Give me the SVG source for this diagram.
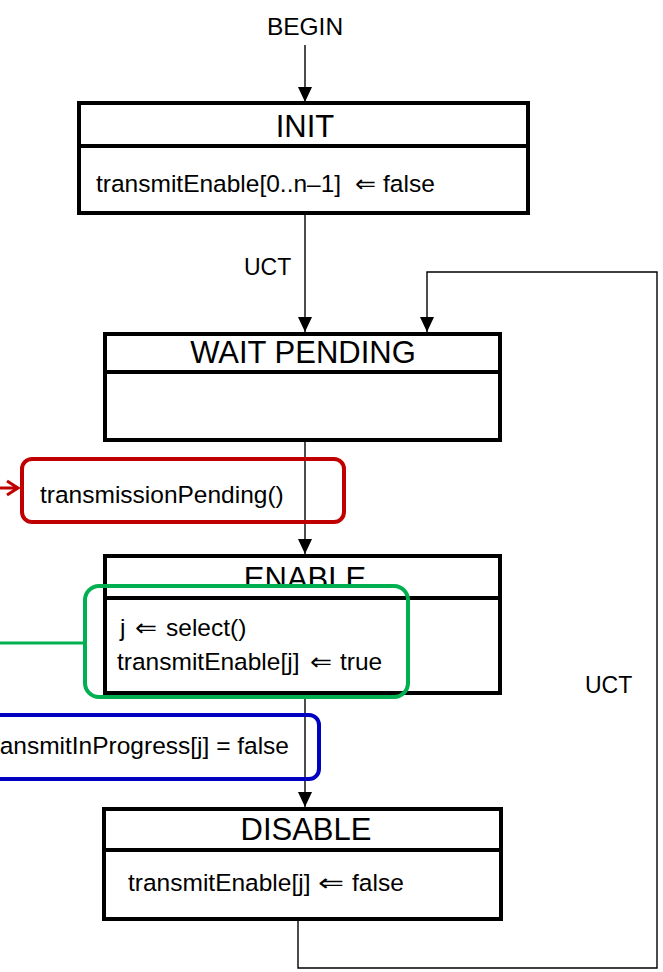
<svg xmlns="http://www.w3.org/2000/svg" width="663" height="972" viewBox="0 0 663 972">
<style>
text{font-family:"Liberation Sans","DejaVu Sans",Arial,sans-serif;fill:#000}
.t{font-size:31px;text-anchor:middle}
.s{font-size:24.5px}
.ar{font-family:"DejaVu Sans","Liberation Sans",sans-serif;font-size:24px}
.lbl{font-size:23px}
.box{fill:#fff;stroke:#000;stroke-width:4}
.div{stroke:#000;stroke-width:4}
.c{fill:none;stroke:#000;stroke-width:1.4}
.hl{fill:none;stroke-width:4}
</style>
<defs>
<marker id="ah" markerUnits="userSpaceOnUse" markerWidth="16" markerHeight="16" refX="15" refY="7" orient="auto" viewBox="0 0 16 14">
<path d="M0 0 L15 7 L0 14 Z" fill="#000"/>
</marker>
<clipPath id="enclip"><rect x="100" y="550" width="410" height="34"/></clipPath>
</defs>
<g id="connectors">
<path class="c" d="M305 45 V102" marker-end="url(#ah)"/>
<path class="c" d="M305 213 V332" marker-end="url(#ah)"/>
<path class="c" d="M298 919 V968 H657 V272 H427 V332" marker-end="url(#ah)"/>
<path class="c" d="M305 440 V554" marker-end="url(#ah)"/>
<path class="c" d="M305 693 V807" marker-end="url(#ah)"/>
<text class="lbl" x="244" y="275">UCT</text>
<text class="lbl" x="585" y="693">UCT</text>
</g>
<g id="begin"><text class="s" x="305" y="35" text-anchor="middle">BEGIN</text></g>
<g id="init">
<rect class="box" x="79" y="103" width="449" height="110"/>
<line class="div" x1="79" y1="146" x2="528" y2="146"/>
<text class="t" x="305" y="137">INIT</text>
<text class="s" x="96" y="192">transmitEnable[0..n–1]</text>
<text class="ar" x="355" y="192" textLength="21" lengthAdjust="spacingAndGlyphs">⇐</text>
<text class="s" x="383" y="192">false</text>
</g>
<g id="wait-pending">
<rect class="box" x="105" y="334" width="395" height="106"/>
<line class="div" x1="105" y1="372" x2="500" y2="372"/>
<text class="t" x="303" y="363">WAIT PENDING</text>
</g>
<g id="enable">
<rect class="box" x="105" y="556" width="395" height="137"/>
<line class="div" x1="105" y1="598" x2="500" y2="598"/>
<text class="t" x="305" y="589" clip-path="url(#enclip)">ENABLE</text>
<text class="s" x="120" y="636">j</text>
<text class="ar" x="135" y="636" textLength="22" lengthAdjust="spacingAndGlyphs">⇐</text>
<text class="s" x="166" y="636">select()</text>
<text class="s" x="117" y="670">transmitEnable[j]</text>
<text class="ar" x="310" y="670" textLength="22" lengthAdjust="spacingAndGlyphs">⇐</text>
<text class="s" x="340" y="670">true</text>
</g>
<g id="disable">
<rect class="box" x="104" y="809" width="397" height="110"/>
<line class="div" x1="104" y1="850" x2="501" y2="850"/>
<text class="t" x="306" y="840">DISABLE</text>
<text class="s" x="128" y="891">transmitEnable[j]</text>
<text class="ar" x="318" y="891" textLength="26" lengthAdjust="spacingAndGlyphs">⇐</text>
<text class="s" x="352" y="891">false</text>
</g>
<g id="condition-pending">
<rect class="hl" x="22" y="459" width="322" height="63" rx="10" stroke="#C00000"/>
<path d="M0 488 H17 M7 481 L18 488 L7 495" fill="none" stroke="#C00000" stroke-width="3"/>
<text class="s" x="40" y="503">transmissionPending()</text>
</g>
<g id="highlight-enable">
<rect class="hl" x="85" y="586" width="323" height="111" rx="14" stroke="#00B050"/>
<line x1="0" y1="643" x2="85" y2="643" stroke="#00B050" stroke-width="3"/>
</g>
<g id="condition-progress">
<rect class="hl" x="-20" y="715" width="339" height="64" rx="10" stroke="#0000C0"/>
<text class="s" x="289" y="754" text-anchor="end">ansmitInProgress[j] = false</text>
</g>
</svg>
